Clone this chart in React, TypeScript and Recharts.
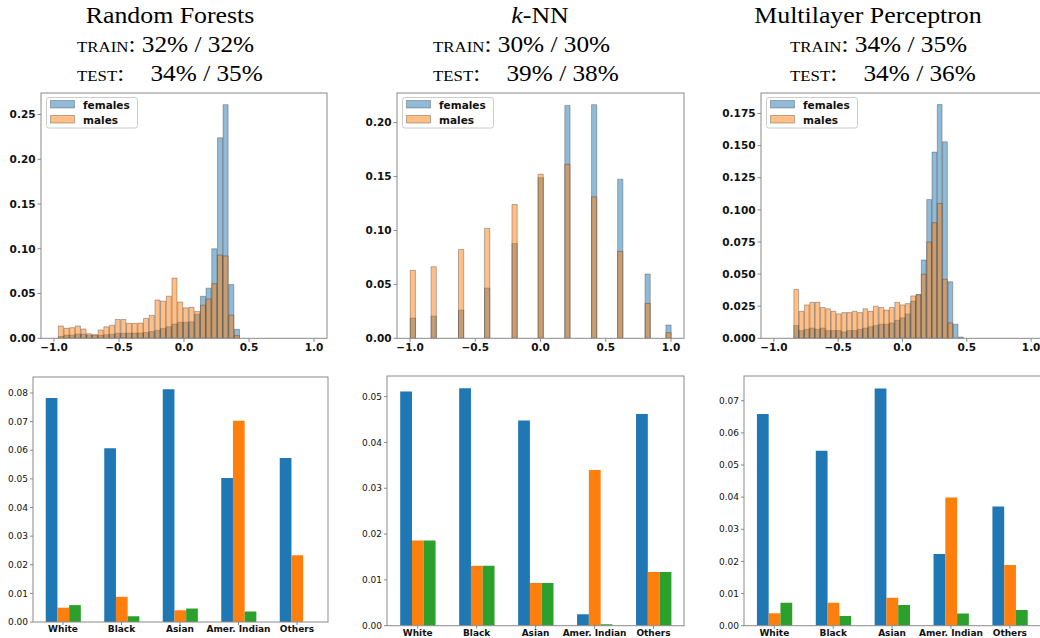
import React from 'react';
import { BarChart, Bar, XAxis, YAxis } from 'recharts';

const FONT = '"DejaVu Sans", Verdana, sans-serif';
const SERIF = '"Liberation Serif", "Times New Roman", serif';
const SPINE = '#8a8a8a';
const BLUE = '#1f77b4';
const ORANGE = '#ff7f0e';
const GREEN = '#2ca02c';

// ---------- shared axis data ----------
const X_DOMAIN: [number, number] = [-1.1, 1.1];
const X_TICKS = [-1, -0.5, 0, 0.5, 1];

// ---------- titles ----------
const modelNames = ['Random Forests', 'k-NN', 'Multilayer Perceptron'];
const trainScores = ['32% / 32%', '30% / 30%', '34% / 35%'];
const testScores = ['34% / 35%', '39% / 38%', '34% / 36%'];

// ---------- Random Forests histogram ----------
const rfBinCenters = [
  -0.945, -0.901, -0.858, -0.814, -0.77, -0.727, -0.683, -0.639, -0.595, -0.552, -0.508, -0.464,
  -0.421, -0.377, -0.333, -0.29, -0.246, -0.202, -0.159, -0.115, -0.071, -0.027, 0.016, 0.06,
  0.104, 0.148, 0.191, 0.235, 0.279, 0.322, 0.366, 0.41,
];
const rfBinWidth = 0.0437;
const rfFemales = [
  0.002, 0.0037, 0.0037, 0.0048, 0.0048, 0.0035, 0.0035, 0.0035, 0.004, 0.0045, 0.0056, 0.0056,
  0.0058, 0.0058, 0.006, 0.0065, 0.0075, 0.009, 0.011, 0.013, 0.016, 0.018, 0.018, 0.0185,
  0.027, 0.047, 0.056, 0.1, 0.224, 0.261, 0.06, 0.01,
];
const rfMales = [
  0.0138, 0.0112, 0.0119, 0.0138, 0.0104, 0.005, 0.004, 0.0093, 0.0128, 0.0146, 0.021, 0.021,
  0.0167, 0.0167, 0.017, 0.0222, 0.0257, 0.0428, 0.0415, 0.047, 0.0673, 0.0405, 0.034, 0.0346,
  0.03, 0.037, 0.044, 0.061, 0.093, 0.092, 0.026, 0.003,
];
const rfYTicks = [0, 0.05, 0.1, 0.15, 0.2, 0.25];

// ---------- k-NN histogram ----------
const knnBinCenters = [-0.98, -0.82, -0.61, -0.41, -0.2, 0, 0.205, 0.41, 0.61, 0.82, 0.98];
const knnBinWidth = 0.04;
const knnFemales = [0.0188, 0.0207, 0.0262, 0.0466, 0.088, 0.149, 0.216, 0.2167, 0.1475, 0.0596, 0.0123];
const knnMales = [0.063, 0.0664, 0.0824, 0.1019, 0.1241, 0.1522, 0.1614, 0.1312, 0.0806, 0.0324, 0.0052];
const knnYTicks = [0, 0.05, 0.1, 0.15, 0.2];

// ---------- MLP histogram ----------
const mlpBinCenters = [
  -0.824, -0.783, -0.742, -0.7, -0.659, -0.618, -0.576, -0.535, -0.494, -0.452, -0.411, -0.37,
  -0.328, -0.287, -0.246, -0.205, -0.163, -0.122, -0.081, -0.039, 0.002, 0.043, 0.085, 0.126,
  0.167, 0.209, 0.25, 0.291, 0.332, 0.374, 0.415, 0.456,
];
const mlpBinWidth = 0.0413;
const mlpFemales = [
  0.01, 0.006, 0.007, 0.008, 0.007, 0.008, 0.006, 0.006, 0.006, 0.005, 0.006, 0.006,
  0.007, 0.008, 0.009, 0.01, 0.011, 0.011, 0.012, 0.014, 0.016, 0.019, 0.029, 0.034,
  0.061, 0.108, 0.145, 0.182, 0.153, 0.044, 0.011, 0.001,
];
const mlpMales = [
  0.038, 0.021, 0.026, 0.028, 0.028, 0.024, 0.023, 0.021, 0.019, 0.02, 0.02, 0.021,
  0.02, 0.023, 0.021, 0.025, 0.024, 0.022, 0.024, 0.028, 0.026, 0.027, 0.033, 0.034,
  0.05, 0.075, 0.09, 0.105, 0.046, 0.012, 0, 0,
];
const mlpYTicks = [0, 0.025, 0.05, 0.075, 0.1, 0.125, 0.15, 0.175];

// ---------- race bar charts ----------
const races = ['White', 'Black', 'Asian', 'Amer. Indian', 'Others'];

const rfRaceBlue = [0.0783, 0.0607, 0.0813, 0.0503, 0.0573];
const rfRaceOrange = [0.005, 0.0088, 0.0041, 0.0703, 0.0233];
const rfRaceGreen = [0.0059, 0.002, 0.0047, 0.0037, 0];
const rfRaceTicks = [0, 0.01, 0.02, 0.03, 0.04, 0.05, 0.06, 0.07, 0.08];

const knnRaceBlue = [0.0511, 0.0518, 0.0448, 0.0025, 0.0462];
const knnRaceOrange = [0.0186, 0.0131, 0.0093, 0.034, 0.0117];
const knnRaceGreen = [0.0186, 0.0131, 0.0093, 0.0003, 0.0117];
const knnRaceTicks = [0, 0.01, 0.02, 0.03, 0.04, 0.05];

const mlpRaceBlue = [0.0659, 0.0544, 0.0738, 0.0223, 0.0371];
const mlpRaceOrange = [0.0039, 0.0071, 0.0087, 0.0399, 0.0189];
const mlpRaceGreen = [0.0071, 0.003, 0.0064, 0.0038, 0.0049];
const mlpRaceTicks = [0, 0.01, 0.02, 0.03, 0.04, 0.05, 0.06, 0.07];

const fmtX = (v: number) => {
  const s = Math.abs(v).toFixed(1);
  return v < 0 ? '\u2212' + s : s;
};

function Frame({ l, t, w, h }: { l: number; t: number; w: number; h: number }) {
  return (
    <svg
      style={{ position: 'absolute', left: l - 1, top: t - 1, pointerEvents: 'none' }}
      width={w + 2}
      height={h + 2}
    >
      <rect x={1} y={1} width={w} height={h} fill="none" stroke={SPINE} strokeWidth={1} />
    </svg>
  );
}

type HistProps = {
  l: number; t: number; w: number; h: number; yw: number;
  centers: number[]; binWidth: number; females: number[]; males: number[];
  yMax: number; yTicks: number[]; yDigits: number;
};

function Hist({ l, t, w, h, yw, centers, binWidth, females, males, yMax, yTicks, yDigits }: HistProps) {
  const MT = 4, MR = 4, XH = 22;
  const data = centers.map((x, i) => ({ x, f: females[i], m: males[i] }));
  const barSize = (binWidth / (X_DOMAIN[1] - X_DOMAIN[0])) * w;
  const tickStyle = { fontSize: 10.5, fontFamily: FONT, fontWeight: 700, fill: '#111' };
  return (
    <>
      <div style={{ position: 'absolute', left: l - yw, top: t - MT }}>
        <BarChart
          width={yw + w + MR}
          height={MT + h + XH}
          data={data}
          margin={{ top: MT, right: MR, bottom: 0, left: 0 }}
          barGap={0}
          barCategoryGap={0}
        >
          <XAxis xAxisId="b" dataKey="x" type="number" domain={X_DOMAIN} allowDataOverflow ticks={X_TICKS}
            interval={0} tickFormatter={fmtX} height={XH} axisLine={false} tickLine={{ stroke: SPINE }}
            tickSize={3.5} tickMargin={1.5} tick={tickStyle} />
          <XAxis xAxisId="m" dataKey="x" type="number" domain={X_DOMAIN} allowDataOverflow hide />
          <YAxis yAxisId="l" type="number" domain={[0, yMax]} allowDataOverflow ticks={yTicks} interval={0}
            tickFormatter={(v: number) => v.toFixed(yDigits)} width={yw} axisLine={false}
            tickLine={{ stroke: SPINE }} tickSize={3.5} tickMargin={2} tick={tickStyle} />
          <Bar xAxisId="b" yAxisId="l" dataKey="f" barSize={barSize} fill={BLUE} fillOpacity={0.5}
            stroke="#222" strokeOpacity={0.4} strokeWidth={0.8} isAnimationActive={false} />
          <Bar xAxisId="m" yAxisId="l" dataKey="m" barSize={barSize} fill={ORANGE} fillOpacity={0.5}
            stroke="#222" strokeOpacity={0.4} strokeWidth={0.8} isAnimationActive={false} />
        </BarChart>
      </div>
      <Frame l={l} t={t} w={w} h={h} />
    </>
  );
}

type RaceProps = {
  l: number; t: number; w: number; h: number; yw: number; padL: number; padR: number;
  blue: number[]; orange: number[]; green: number[]; yMax: number; yTicks: number[];
};

function RaceChart({ l, t, w, h, yw, padL, padR, blue, orange, green, yMax, yTicks }: RaceProps) {
  const MT = 4, MR = 4, XH = 16;
  const data = races.map((cat, i) => ({ cat, a: blue[i], b: orange[i], c: green[i] }));
  const band = (w - padL - padR) / races.length;
  const barSize = band * 0.2;
  const yTick = { fontSize: 9, fontFamily: FONT, fill: '#111' };
  const xTick = { fontSize: 9, fontFamily: FONT, fontWeight: 700, fill: '#111' };
  return (
    <>
      <div style={{ position: 'absolute', left: l - yw, top: t - MT }}>
        <BarChart
          width={yw + w + MR}
          height={MT + h + XH}
          data={data}
          margin={{ top: MT, right: MR, bottom: 0, left: 0 }}
          barGap={0}
        >
          <XAxis xAxisId="b" dataKey="cat" type="category" padding={{ left: padL, right: padR }} interval={0}
            height={XH} axisLine={false} tickLine={{ stroke: SPINE }} tickSize={3} tickMargin={1} tick={xTick} />
          <YAxis yAxisId="l" type="number" domain={[0, yMax]} allowDataOverflow ticks={yTicks} interval={0}
            tickFormatter={(v: number) => v.toFixed(2)} width={yw} axisLine={false}
            tickLine={{ stroke: SPINE }} tickSize={3} tickMargin={2} tick={yTick} />
          <Bar xAxisId="b" yAxisId="l" dataKey="a" barSize={barSize} fill={BLUE} isAnimationActive={false} />
          <Bar xAxisId="b" yAxisId="l" dataKey="b" barSize={barSize} fill={ORANGE} isAnimationActive={false} />
          <Bar xAxisId="b" yAxisId="l" dataKey="c" barSize={barSize} fill={GREEN} isAnimationActive={false} />
        </BarChart>
      </div>
      <Frame l={l} t={t} w={w} h={h} />
    </>
  );
}

function HistLegend({ x, y }: { x: number; y: number }) {
  const txt = { fontSize: 10.5, fontFamily: FONT, fontWeight: 700, fill: '#111' };
  return (
    <svg style={{ position: 'absolute', left: x, top: y, overflow: 'visible' }} width={93} height={32}>
      <rect x={0.5} y={0.5} width={91} height={30.5} rx={2.5} fill="#fff" fillOpacity={0.8} stroke="#cccccc" />
      <rect x={4.5} y={3.5} width={24} height={7.5} fill={BLUE} fillOpacity={0.5} stroke="#222" strokeOpacity={0.4} strokeWidth={0.8} />
      <rect x={4.5} y={18.5} width={24} height={7.5} fill={ORANGE} fillOpacity={0.5} stroke="#222" strokeOpacity={0.4} strokeWidth={0.8} />
      <text x={37} y={7.5} dominantBaseline="central" {...txt}>females</text>
      <text x={37} y={22.5} dominantBaseline="central" {...txt}>males</text>
    </svg>
  );
}

function Titles() {
  const S = 1.1;
  const centers = [170, 540, 868];
  const lineStarts = [77, 433, 790];
  return (
    <svg style={{ position: 'absolute', left: 0, top: 0 }} width={1040} height={92}>
      {modelNames.map((name, i) => (
        <g key={name} fontFamily={SERIF} fill="#000">
          <g transform={`translate(${centers[i]},23) scale(${S},1)`}>
            <text x={0} y={0} textAnchor="middle" fontSize={23.5}>
              {name.startsWith('k-') ? (
                <>
                  <tspan fontStyle="italic">k</tspan>
                  <tspan>{name.slice(1)}</tspan>
                </>
              ) : (
                name
              )}
            </text>
          </g>
          <g transform={`translate(${lineStarts[i]},52) scale(${S},1)`}>
            <text x={0} y={0}>
              <tspan fontSize={15.3}>TRAIN</tspan>
              <tspan fontSize={23}>{': ' + trainScores[i]}</tspan>
            </text>
          </g>
          <g transform={`translate(${lineStarts[i]},81) scale(${S},1)`}>
            <text x={0} y={0}>
              <tspan fontSize={15.3}>TEST</tspan>
              <tspan fontSize={23}>:</tspan>
              <tspan x={66.8} fontSize={23}>{testScores[i]}</tspan>
            </text>
          </g>
        </g>
      ))}
    </svg>
  );
}

export default function App() {
  return (
    <div
      style={{
        position: 'absolute',
        left: 0,
        top: 0,
        width: 1040,
        height: 638,
        overflow: 'hidden',
        background: '#fff',
      }}
    >
      <Hist l={41} t={93} w={286} h={245.3} yw={41} centers={rfBinCenters} binWidth={rfBinWidth}
        females={rfFemales} males={rfMales} yMax={0.274} yTicks={rfYTicks} yDigits={2} />
      <Hist l={397} t={93} w={287} h={245.3} yw={46} centers={knnBinCenters} binWidth={knnBinWidth}
        females={knnFemales} males={knnMales} yMax={0.2275} yTicks={knnYTicks} yDigits={2} />
      <Hist l={761} t={93} w={283} h={245.3} yw={46} centers={mlpBinCenters} binWidth={mlpBinWidth}
        females={mlpFemales} males={mlpMales} yMax={0.191} yTicks={mlpYTicks} yDigits={3} />

      <RaceChart l={33} t={376.7} w={295} h={245} yw={33} padL={0.75} padR={1.75}
        blue={rfRaceBlue} orange={rfRaceOrange} green={rfRaceGreen} yMax={0.0856} yTicks={rfRaceTicks} />
      <RaceChart l={387.3} t={376} w={297} h={249.7} yw={40} padL={1.2} padR={1}
        blue={knnRaceBlue} orange={knnRaceOrange} green={knnRaceGreen} yMax={0.0545} yTicks={knnRaceTicks} />
      <RaceChart l={744.3} t={376} w={297} h={249.7} yw={40} padL={0.9} padR={1.7}
        blue={mlpRaceBlue} orange={mlpRaceOrange} green={mlpRaceGreen} yMax={0.0777} yTicks={mlpRaceTicks} />

      <HistLegend x={45.7} y={97.3} />
      <HistLegend x={401.7} y={97.3} />
      <HistLegend x={765.7} y={97.3} />

      <Titles />
    </div>
  );
}
